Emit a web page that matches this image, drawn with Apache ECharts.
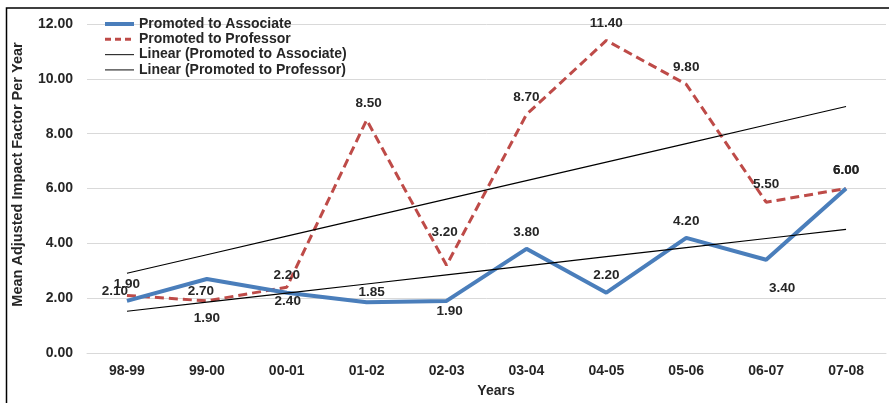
<!DOCTYPE html>
<html>
<head>
<meta charset="utf-8">
<script src="https://cdn.jsdelivr.net/npm/echarts@6/dist/echarts.min.js"></script>
<style>
  html, body { margin: 0; padding: 0; background: #fff; }
  #chart { width: 889px; height: 403px; }
</style>
</head>
<body>
<div id="chart"></div>
<script>
// Academic years on the category axis
const years = ['98-99', '99-00', '00-01', '01-02', '02-03', '03-04', '04-05', '05-06', '06-07', '07-08'];

// Mean adjusted impact factor per year
const promotedAssociate = [1.90, 2.70, 2.20, 1.85, 1.90, 3.80, 2.20, 4.20, 3.40, 6.00];
const promotedProfessor = [2.10, 1.90, 2.40, 8.50, 3.20, 8.70, 11.40, 9.80, 5.50, 6.00];

// Value axis ticks
const yTicks = [0, 2, 4, 6, 8, 10, 12];

// Label placement (offset of each label centre from its point, in px)
const assocLabelShift = [[0, -17], [-6, 12], [0, -17], [5, -10], [3, 10], [0, -17], [0, -17], [0, -17], [16, 28], [0, -18]];
const profLabelShift  = [[-12, -4], [0, 17], [1, 14], [2, -17], [-2, -33], [0, -17], [0, -17], [0, -17], [0, -18], [0, -18]];

// Least-squares linear trend evaluated at each category index
function linearTrend(values) {
  const n = values.length;
  const xs = values.map((_, i) => i + 1);
  const mx = xs.reduce((a, b) => a + b, 0) / n;
  const my = values.reduce((a, b) => a + b, 0) / n;
  let sxy = 0, sxx = 0;
  for (let i = 0; i < n; i++) {
    sxy += (xs[i] - mx) * (values[i] - my);
    sxx += (xs[i] - mx) * (xs[i] - mx);
  }
  const slope = sxy / sxx;
  const intercept = my - slope * mx;
  return xs.map(x => intercept + slope * x);
}

const FONT = '"Liberation Sans", Arial, sans-serif';
const TEXT = '#262626';
const BLUE = '#4A7EBB';
const RED = '#BE4B48';

function labelled(values, shifts) {
  return values.map((v, i) => ({
    value: v,
    label: { position: 'inside', offset: shifts[i] }
  }));
}

const dataLabel = {
  show: true,
  formatter: p => Number(p.value).toFixed(2),
  fontFamily: FONT,
  fontWeight: 'bold',
  fontSize: 13.5,
  color: TEXT
};

const chart = echarts.init(document.getElementById('chart'), null, { renderer: 'canvas' });

chart.setOption({
  animation: false,
  backgroundColor: '#fff',
  graphic: [{
    type: 'rect',
    shape: { x: 6.5, y: 8, width: 1000, height: 1000 },
    style: { fill: 'none', stroke: '#000', lineWidth: 1.5 },
    silent: true,
    z: 100
  }],
  grid: { left: 87, right: 3, top: 24, bottom: 47, containLabel: false },
  legend: {
    orient: 'vertical',
    left: 103,
    top: 17,
    padding: 0,
    itemWidth: 29,
    itemHeight: 14,
    itemGap: 1.3,
    itemStyle: { opacity: 0 },
    textStyle: { fontFamily: FONT, fontWeight: 'bold', fontSize: 14, color: TEXT, lineHeight: 14 },
    data: [
      { name: 'Promoted to Associate', lineStyle: { width: 4, color: BLUE } },
      { name: 'Promoted to Professor', lineStyle: { width: 3, color: RED, type: [6, 4] } },
      { name: 'Linear (Promoted to Associate)', lineStyle: { width: 1.2, color: '#333' } },
      { name: 'Linear (Promoted to Professor)', lineStyle: { width: 1.2, color: '#333' } }
    ]
  },
  xAxis: {
    type: 'category',
    data: years,
    boundaryGap: true,
    name: 'Years',
    nameLocation: 'middle',
    nameGap: 31,
    nameTextStyle: { fontFamily: FONT, fontWeight: 'bold', fontSize: 14, color: TEXT, padding: [0, 0, 0, 19] },
    axisLine: { show: true, lineStyle: { color: '#d9d9d9', width: 1 } },
    axisTick: { show: false },
    axisLabel: { fontFamily: FONT, fontWeight: 'bold', fontSize: 14, color: TEXT, margin: 11 }
  },
  yAxis: {
    type: 'value',
    min: yTicks[0],
    max: yTicks[yTicks.length - 1],
    interval: yTicks[1] - yTicks[0],
    name: 'Mean Adjusted Impact Factor Per Year',
    nameLocation: 'middle',
    nameGap: 62,
    nameTextStyle: { fontFamily: FONT, fontWeight: 'bold', fontSize: 14.5, color: TEXT, padding: [0, 0, 0, 28] },
    axisLine: { show: false },
    axisTick: { show: false },
    splitLine: { show: true, lineStyle: { color: '#d9d9d9', width: 1 } },
    axisLabel: {
      fontFamily: FONT, fontWeight: 'bold', fontSize: 14, color: TEXT, margin: 14,
      formatter: v => v.toFixed(2)
    }
  },
  series: [
    {
      name: 'Promoted to Associate',
      type: 'line',
      data: labelled(promotedAssociate, assocLabelShift),
      symbol: 'circle',
      symbolSize: 0,
      showSymbol: true,
      lineStyle: { color: BLUE, width: 4 },
      itemStyle: { color: BLUE },
      label: dataLabel,
      z: 3
    },
    {
      name: 'Promoted to Professor',
      type: 'line',
      data: labelled(promotedProfessor, profLabelShift),
      symbol: 'circle',
      symbolSize: 0,
      showSymbol: true,
      lineStyle: { color: RED, width: 3, type: [9, 5] },
      itemStyle: { color: RED },
      label: dataLabel,
      z: 2
    },
    {
      name: 'Linear (Promoted to Associate)',
      type: 'line',
      data: linearTrend(promotedAssociate),
      symbol: 'none',
      lineStyle: { color: '#000', width: 1.2 },
      itemStyle: { color: '#000' },
      z: 4
    },
    {
      name: 'Linear (Promoted to Professor)',
      type: 'line',
      data: linearTrend(promotedProfessor),
      symbol: 'none',
      lineStyle: { color: '#000', width: 1.2 },
      itemStyle: { color: '#000' },
      z: 4
    }
  ]
});
</script>
</body>
</html>
